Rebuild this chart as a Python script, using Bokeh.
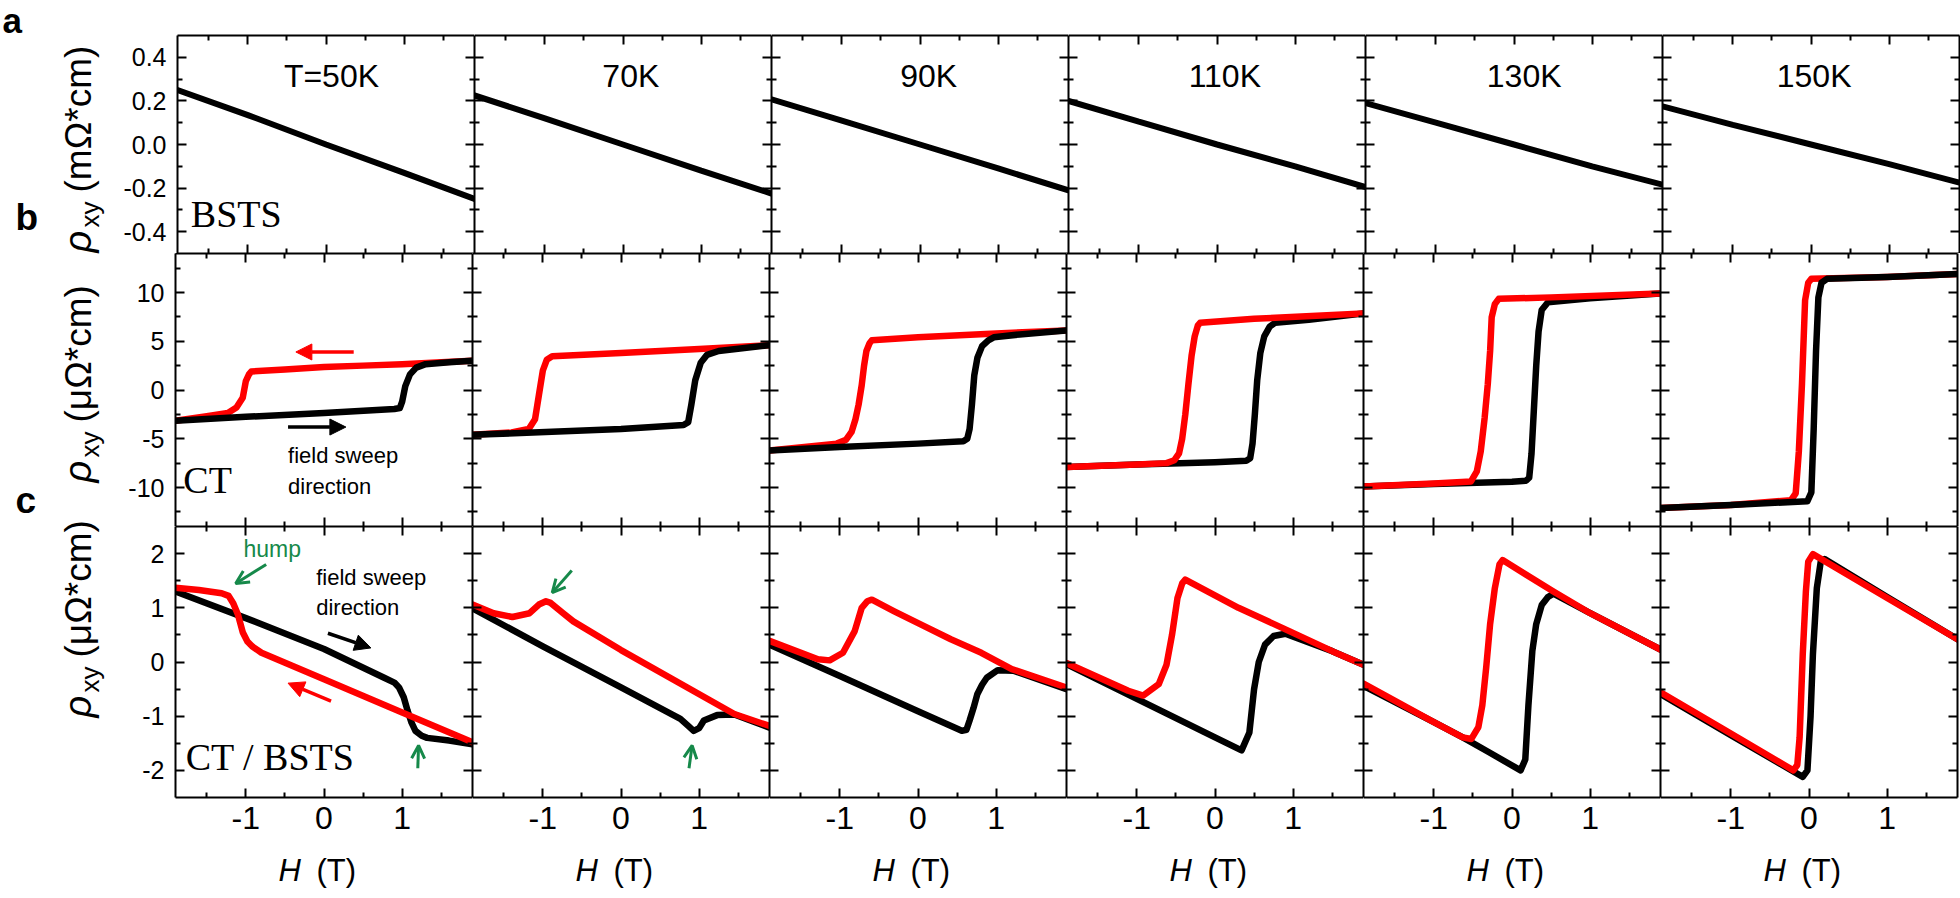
import math
from bokeh.plotting import figure
from bokeh.layouts import column, row
from bokeh.models import (LinearAxis, FixedTicker, Label, Arrow, NormalHead, OpenHead,
                          Range1d, CustomJSTickFormatter)
from bokeh.embed import file_html
from bokeh.resources import INLINE

# ---------------- data ----------------
temps = ["T=50K", "70K", "90K", "110K", "130K", "150K"]
row_names = ["BSTS", "CT", "CT / BSTS"]
row_units = ["(mΩ*cm)", "(μΩ*cm)", "(μΩ*cm)"]

# row a: BSTS, rho_xy (mOhm cm)
bsts_H = [-1.9, -1.0, 0.0, 1.0, 1.9]
bsts_50 = [0.25, 0.135, 0.0, -0.13, -0.25]
bsts_70 = [0.225, 0.12, 0.0, -0.12, -0.225]
bsts_90 = [0.207, 0.11, 0.0, -0.11, -0.21]
bsts_110 = [0.20, 0.105, 0.0, -0.10, -0.195]
bsts_130 = [0.19, 0.10, 0.0, -0.10, -0.184]
bsts_150 = [0.175, 0.09, 0.0, -0.09, -0.175]

# row b: CT, up sweep (black) and down sweep (red), rho_xy (uOhm cm)
ct_up_H_50 = [-1.9, -1.0, 0.0, 0.9, 0.97, 1.0, 1.04, 1.1, 1.18, 1.3, 1.6, 1.9]
ct_up_50 = [-3.15, -2.75, -2.35, -1.95, -1.85, -1.2, 0.4, 1.6, 2.3, 2.65, 2.85, 3.0]
ct_dn_H_50 = [-1.9, -1.5, -1.23, -1.12, -1.04, -1.0, -0.96, -0.93, -0.5, 0.0, 0.5, 1.0, 1.5, 1.9]
ct_dn_50 = [-3.15, -2.7, -2.35, -1.8, -0.8, 0.9, 1.6, 1.9, 2.1, 2.35, 2.5, 2.65, 2.85, 3.0]

ct_up_H_70 = [-1.9, 0.0, 0.8, 0.86, 0.9, 0.95, 1.02, 1.1, 1.25, 1.9]
ct_up_70 = [-4.6, -4.0, -3.6, -3.3, -1.5, 1.0, 2.8, 3.6, 4.0, 4.6]
ct_dn_H_70 = [-1.9, -1.4, -1.18, -1.1, -1.05, -1.0, -0.95, -0.88, 0.0, 1.0, 1.9]
ct_dn_70 = [-4.6, -4.35, -4.0, -3.0, -0.5, 2.0, 3.1, 3.45, 3.8, 4.2, 4.6]

ct_up_H_90 = [-1.9, -1.0, 0.0, 0.58, 0.63, 0.66, 0.69, 0.72, 0.76, 0.82, 0.9, 0.97, 1.3, 1.9]
ct_up_90 = [-6.2, -5.85, -5.5, -5.25, -5.0, -4.0, -1.5, 1.5, 3.3, 4.5, 5.1, 5.4, 5.7, 6.1]
ct_dn_H_90 = [-1.9, -1.04, -0.92, -0.85, -0.8, -0.76, -0.72, -0.69, -0.66, -0.62, -0.59, 0.0, 1.0, 1.9]
ct_dn_90 = [-6.2, -5.5, -5.1, -4.3, -3.0, -1.5, 0.5, 2.5, 4.0, 4.8, 5.1, 5.4, 5.8, 6.1]

ct_up_H_110 = [-1.9, -1.0, 0.0, 0.4, 0.45, 0.48, 0.51, 0.54, 0.58, 0.63, 0.7, 0.77, 1.2, 1.9]
ct_up_110 = [-7.9, -7.65, -7.4, -7.25, -7.0, -5.5, -2.5, 1.0, 3.8, 5.5, 6.5, 6.9, 7.2, 7.85]
ct_dn_H_110 = [-1.9, -1.0, -0.62, -0.52, -0.46, -0.42, -0.38, -0.34, -0.3, -0.26, -0.22, -0.19, 0.5, 1.9]
ct_dn_110 = [-7.9, -7.65, -7.5, -7.2, -6.5, -5.0, -2.5, 0.6, 3.5, 5.5, 6.6, 6.9, 7.3, 7.85]

ct_up_H_130 = [-1.9, -1.0, 0.0, 0.18, 0.22, 0.25, 0.28, 0.31, 0.34, 0.38, 0.46, 1.0, 1.9]
ct_up_130 = [-9.9, -9.65, -9.4, -9.3, -9.0, -6.5, -2.0, 2.5, 6.0, 8.2, 9.0, 9.4, 9.9]
ct_dn_H_130 = [-1.9, -1.0, -0.525, -0.45, -0.4, -0.35, -0.31, -0.28, -0.26, -0.22, -0.17, 0.5, 1.9]
ct_dn_130 = [-9.9, -9.6, -9.38, -8.35, -6.3, -2.85, 0.59, 4.0, 7.45, 8.8, 9.35, 9.5, 9.9]

ct_up_H_150 = [-1.9, -1.0, -0.02, 0.03, 0.06, 0.09, 0.12, 0.16, 0.23, 1.0, 1.9]
ct_up_150 = [-12.1, -11.8, -11.4, -10.5, -4.0, 4.0, 9.5, 11.0, 11.4, 11.6, 11.9]
ct_dn_H_150 = [-1.9, -1.0, -0.23, -0.17, -0.13, -0.09, -0.05, -0.01, 0.03, 1.0, 1.9]
ct_dn_150 = [-12.1, -11.8, -11.3, -10.6, -6.3, 0.6, 9.2, 11.0, 11.4, 11.6, 11.9]

# row c: CT / BSTS heterostructure
hs_up_H_50 = [-1.9, -1.0, 0.0, 0.77, 0.9, 0.96, 1.02, 1.07, 1.12, 1.17, 1.25, 1.32, 1.6, 1.9]
hs_up_50 = [1.3, 0.81, 0.24, -0.29, -0.38, -0.47, -0.65, -0.9, -1.12, -1.27, -1.36, -1.4, -1.45, -1.52]
hs_dn_H_50 = [-1.9, -1.6, -1.31, -1.22, -1.16, -1.1, -1.04, -0.98, -0.92, -0.8, 0.0, 1.0, 1.9]
hs_dn_50 = [1.37, 1.33, 1.27, 1.22, 1.08, 0.87, 0.55, 0.38, 0.29, 0.17, -0.32, -0.93, -1.48]

hs_up_H_70 = [-1.9, -1.0, 0.0, 0.76, 0.86, 0.93, 1.0, 1.06, 1.23, 1.45, 1.9]
hs_up_70 = [0.99, 0.29, -0.47, -1.05, -1.18, -1.27, -1.22, -1.08, -0.98, -0.97, -1.21]
hs_dn_H_70 = [-1.9, -1.63, -1.39, -1.17, -1.05, -0.96, -0.9, -0.74, -0.61, 0.0, 1.45, 1.9]
hs_dn_70 = [1.06, 0.9, 0.83, 0.9, 1.06, 1.12, 1.09, 0.9, 0.75, 0.22, -0.96, -1.18]

hs_up_H_90 = [-1.9, -1.0, 0.0, 0.56, 0.62, 0.66, 0.71, 0.76, 0.82, 0.88, 1.02, 1.22, 1.9]
hs_up_90 = [0.32, -0.26, -0.91, -1.27, -1.25, -1.08, -0.85, -0.59, -0.42, -0.29, -0.15, -0.16, -0.5]
hs_dn_H_90 = [-1.9, -1.28, -1.13, -0.96, -0.81, -0.72, -0.65, -0.59, -0.31, 0.04, 0.42, 0.81, 1.2, 1.9]
hs_dn_90 = [0.39, 0.05, 0.03, 0.17, 0.57, 1.0, 1.12, 1.15, 0.94, 0.69, 0.42, 0.17, -0.13, -0.47]

hs_up_H_110 = [-1.9, -1.0, 0.0, 0.34, 0.44, 0.5, 0.56, 0.64, 0.75, 0.9, 1.5, 1.9]
hs_up_110 = [-0.04, -0.68, -1.39, -1.63, -1.3, -0.5, 0.0, 0.32, 0.48, 0.52, 0.2, -0.05]
hs_dn_H_110 = [-1.9, -1.11, -0.92, -0.72, -0.62, -0.55, -0.48, -0.42, -0.38, 0.3, 0.95, 1.5, 1.9]
hs_dn_110 = [-0.02, -0.53, -0.62, -0.41, -0.05, 0.5, 1.18, 1.45, 1.52, 1.0, 0.57, 0.2, -0.05]

hs_up_H_130 = [-1.9, -1.0, -0.63, -0.3, 0.11, 0.17, 0.21, 0.26, 0.31, 0.38, 0.46, 0.53, 1.0, 1.9]
hs_up_130 = [-0.44, -1.11, -1.39, -1.66, -2.0, -1.8, -0.8, 0.2, 0.7, 1.05, 1.2, 1.26, 0.9, 0.23]
hs_dn_H_130 = [-1.9, -1.0, -0.63, -0.52, -0.43, -0.38, -0.33, -0.28, -0.22, -0.16, -0.12, 0.53, 1.0, 1.9]
hs_dn_130 = [-0.40, -1.11, -1.39, -1.42, -1.2, -0.8, -0.1, 0.7, 1.36, 1.8, 1.88, 1.30, 0.9, 0.23]

hs_up_H_150 = [-1.9, -1.0, -0.08, -0.02, 0.02, 0.05, 0.1, 0.15, 0.2, 1.0, 1.9]
hs_up_150 = [-0.59, -1.35, -2.12, -2.0, -1.0, 0.14, 1.36, 1.85, 1.9, 1.2, 0.42]
hs_dn_H_150 = [-1.9, -1.0, -0.2, -0.15, -0.12, -0.08, -0.04, -0.01, 0.05, 1.0, 1.9]
hs_dn_150 = [-0.56, -1.32, -2.0, -1.9, -1.39, 0.14, 1.3, 1.85, 1.99, 1.18, 0.42]

# axis ticks
x_major = [-1, 0, 1]
x_minor = [-1.5, -0.5, 0.5, 1.5]
row_yrange = [(-0.5, 0.5), (-14, 14), (-2.5, 2.5)]
row_ymajor = [[-0.4, -0.2, 0.0, 0.2, 0.4], [-10, -5, 0, 5, 10], [-2, -1, 0, 1, 2]]
row_yminor = [[-0.3, -0.1, 0.1, 0.3], [-12.5, -7.5, -2.5, 2.5, 7.5, 12.5], [-1.5, -0.5, 0.5, 1.5]]
row_ydigits = [1, 0, 0]

# annotation arrows: (row, col, x0, y0, x1, y1)
black_arrows = [(1, 0, -0.46, -3.8, 0.28, -3.8), (2, 0, 0.05, 0.53, 0.60, 0.26)]
red_arrows = [(1, 0, 0.38, 3.9, -0.36, 3.9), (2, 0, 0.09, -0.72, -0.46, -0.39)]
green_arrows = [(2, 0, -0.74, 1.80, -1.13, 1.45), (2, 0, 1.20, -1.96, 1.21, -1.54),
                (2, 1, -0.63, 1.69, -0.88, 1.28), (2, 1, 0.87, -1.96, 0.91, -1.54)]

temp_label_H = [0.07, 0.1, 0.11, 0.1, 0.13, 0.04]

# ---------------- style / layout ----------------
SANS = "Liberation Sans"
SERIF = "Liberation Serif"
RED = "#ff0000"
GREEN = "#16894a"
x_lo, x_hi = -1.9, 1.9
FW = 297
FH = [218, 273, 271]
STRIP_W = 120          # left strip with y titles and panel letters (canvas x 0..120)
LEFT0 = 55             # room for y tick labels
TOP0, RIGHT5 = 35, 2
BOTTOM2 = 55           # room for x tick labels
TOTAL_H = 898
STRIP_H = TOTAL_H - (TOP0 + sum(FH) + BOTTOM2)   # bottom strip with H (T) titles
BASE_SHIFT = 0.36      # label anchor correction (fraction of font size) to sit on the baseline

bsts_rows = [bsts_50, bsts_70, bsts_90, bsts_110, bsts_130, bsts_150]
ct_up = [(ct_up_H_50, ct_up_50), (ct_up_H_70, ct_up_70), (ct_up_H_90, ct_up_90),
         (ct_up_H_110, ct_up_110), (ct_up_H_130, ct_up_130), (ct_up_H_150, ct_up_150)]
ct_dn = [(ct_dn_H_50, ct_dn_50), (ct_dn_H_70, ct_dn_70), (ct_dn_H_90, ct_dn_90),
         (ct_dn_H_110, ct_dn_110), (ct_dn_H_130, ct_dn_130), (ct_dn_H_150, ct_dn_150)]
hs_up = [(hs_up_H_50, hs_up_50), (hs_up_H_70, hs_up_70), (hs_up_H_90, hs_up_90),
         (hs_up_H_110, hs_up_110), (hs_up_H_130, hs_up_130), (hs_up_H_150, hs_up_150)]
hs_dn = [(hs_dn_H_50, hs_dn_50), (hs_dn_H_70, hs_dn_70), (hs_dn_H_90, hs_dn_90),
         (hs_dn_H_110, hs_dn_110), (hs_dn_H_130, hs_dn_130), (hs_dn_H_150, hs_dn_150)]


def text(p, x, y, s, size, font=SANS, style="normal", color="black", align="left",
         angle=0.0):
    shift = BASE_SHIFT * size
    if angle:
        xo, yo = -shift, 0.0
    else:
        xo, yo = 0.0, shift
    p.add_layout(Label(x=x, y=y, text=s, text_font=font, text_font_size=f"{size}px",
                       text_font_style=style, text_color=color, text_align=align,
                       text_baseline="alphabetic", angle=angle, x_offset=xo, y_offset=yo))


def blank_fig(w, h, xr, yr):
    p = figure(width=w, height=h, x_range=Range1d(*xr), y_range=Range1d(*yr),
               x_axis_location=None, y_axis_location=None, toolbar_location=None,
               tools="", output_backend="svg", min_border=0,
               min_border_left=0, min_border_right=0, min_border_top=0, min_border_bottom=0,
               background_fill_color="white", border_fill_color="white",
               outline_line_color=None)
    p.grid.visible = False
    return p


def make_panel(r, c):
    y0, y1 = row_yrange[r]
    p = figure(frame_width=FW, frame_height=FH[r],
               x_range=Range1d(x_lo, x_hi), y_range=Range1d(y0, y1),
               x_axis_location=None, y_axis_location=None,
               toolbar_location=None, tools="", output_backend="svg", min_border=0,
               min_border_left=LEFT0 if c == 0 else 0,
               min_border_right=RIGHT5 if c == 5 else 0,
               min_border_top=TOP0 if r == 0 else 0,
               min_border_bottom=BOTTOM2 if r == 2 else 0,
               background_fill_color="white", border_fill_color="white",
               outline_line_color=None)
    p.grid.visible = False
    for side in ("left", "right", "above", "below"):
        horiz = side in ("above", "below")
        ax = LinearAxis(
            ticker=FixedTicker(ticks=x_major if horiz else row_ymajor[r],
                               minor_ticks=x_minor if horiz else row_yminor[r]),
            major_tick_in=9, major_tick_out=0, minor_tick_in=5, minor_tick_out=0,
            axis_line_width=2, major_tick_line_width=2, minor_tick_line_width=2,
            axis_line_color="black", major_tick_line_color="black",
            minor_tick_line_color="black")
        labelled = (side == "left" and c == 0) or (side == "below" and r == 2)
        if labelled:
            digits = 0 if horiz else row_ydigits[r]
            ax.formatter = CustomJSTickFormatter(code=f"return tick.toFixed({digits});")
            ax.major_label_text_font = SANS
            ax.major_label_text_font_size = "32px" if horiz else "25px"
            ax.major_label_standoff = 9 if horiz else 11
            ax.major_label_text_color = "black"
        else:
            ax.formatter = CustomJSTickFormatter(code="return '';")
            ax.major_label_text_font_size = "0px"
            ax.major_label_standoff = 0
        p.add_layout(ax, side)
    return p


LW = 6.5
panels = []
for r in range(3):
    prow = []
    for c in range(6):
        p = make_panel(r, c)
        if r == 0:
            p.line(bsts_H, bsts_rows[c], line_color="black", line_width=6, line_cap="round")
            text(p, temp_label_H[c], 0.261, temps[c], 32, align="center")
        elif r == 1:
            order = ["dn", "up"] if c in (0, 1, 2, 5) else ["up", "dn"]
            for o in order:
                if o == "up":
                    p.line(ct_up[c][0], ct_up[c][1], line_color="black", line_width=LW,
                           line_join="round", line_cap="round")
                else:
                    p.line(ct_dn[c][0], ct_dn[c][1], line_color=RED, line_width=LW,
                           line_join="round", line_cap="round")
        else:
            p.line(hs_up[c][0], hs_up[c][1], line_color="black", line_width=LW,
                   line_join="round", line_cap="round")
            p.line(hs_dn[c][0], hs_dn[c][1], line_color=RED, line_width=LW,
                   line_join="round", line_cap="round")
        prow.append(p)
    panels.append(prow)

# sample names
text(panels[0][0], -1.73, -0.38, row_names[0], 38, font=SERIF)
text(panels[1][0], -1.80, -10.6, row_names[1], 38, font=SERIF)
text(panels[2][0], -1.77, -2.0, row_names[2], 38, font=SERIF)

# field sweep direction notes
text(panels[1][0], -0.46, -7.54, "field sweep", 22)
text(panels[1][0], -0.46, -10.7, "direction", 22)
text(panels[2][0], -0.10, 1.41, "field sweep", 22)
text(panels[2][0], -0.10, 0.86, "direction", 22)
text(panels[2][0], -1.03, 1.93, "hump", 23, color=GREEN)

# arrows
for (r, c, x0, y0, x1, y1) in black_arrows:
    panels[r][c].add_layout(Arrow(x_start=x0, y_start=y0, x_end=x1, y_end=y1,
                                  line_color="black", line_width=3.5,
                                  end=NormalHead(size=16, fill_color="black", line_color="black")))
for (r, c, x0, y0, x1, y1) in red_arrows:
    panels[r][c].add_layout(Arrow(x_start=x0, y_start=y0, x_end=x1, y_end=y1,
                                  line_color=RED, line_width=3.5,
                                  end=NormalHead(size=16, fill_color=RED, line_color=RED)))
for (r, c, x0, y0, x1, y1) in green_arrows:
    panels[r][c].add_layout(Arrow(x_start=x0, y_start=y0, x_end=x1, y_end=y1,
                                  line_color=GREEN, line_width=3,
                                  end=OpenHead(size=13, line_color=GREEN, line_width=3)))


def py(page_y):
    # vertical page position -> strip data coordinate (y grows upwards)
    return TOTAL_H - page_y


# ---------------- left strip: y titles and panel letters ----------------
left = blank_fig(STRIP_W, TOTAL_H, (0, STRIP_W), (0, TOTAL_H))

rho_page_y = [252, 482, 717]
for r in range(3):
    s = rho_page_y[r]
    text(left, 91, py(s), "ρ", 38, style="italic", angle=math.pi / 2)
    text(left, 99, py(s - 25), "xy", 26, angle=math.pi / 2)
    text(left, 91, py(s - 60), row_units[r], 37, angle=math.pi / 2)

text(left, 2, py(33), "a", 35, style="bold")
text(left, 15, py(230), "b", 37, style="bold")
text(left, 15, py(513), "c", 37, style="bold")

# ---------------- bottom strip: H (T) titles ----------------
bottom_w = LEFT0 + 6 * FW + RIGHT5
bottom = blank_fig(bottom_w, STRIP_H, (STRIP_W, STRIP_W + bottom_w), (0, STRIP_H))
for c in range(6):
    panel_left = STRIP_W + LEFT0 + c * FW
    text(bottom, panel_left + 103, py(881), "H", 31, style="italic")
    text(bottom, panel_left + 141, py(881), "(T)", 31)

grid_col = column(*[row(*prow, spacing=0) for prow in panels], bottom, spacing=0)
layout = row(left, grid_col, spacing=0)

with open("out.html", "w") as f:
    f.write(file_html(layout, INLINE))
